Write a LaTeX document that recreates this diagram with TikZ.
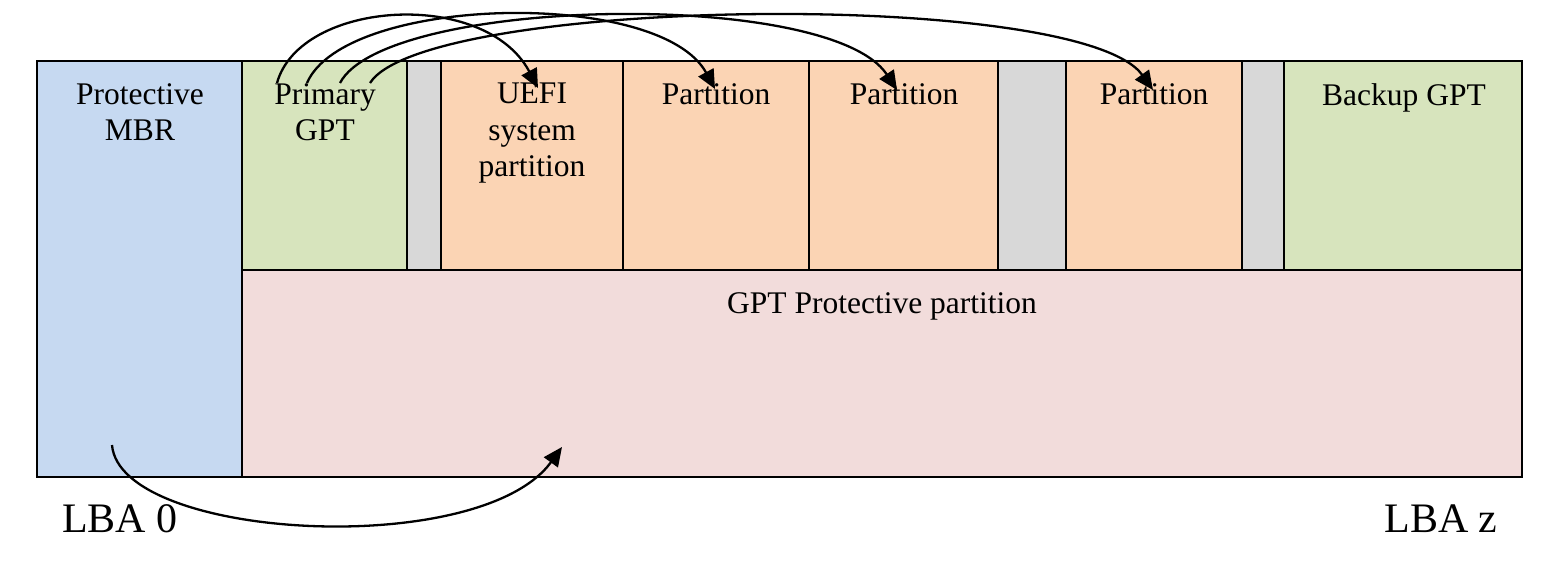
\documentclass[tikz,border=0pt]{standalone}
\usepackage{fontspec}
\setmainfont{Liberation Serif}
\usetikzlibrary{arrows.meta}
\definecolor{mbrblue}{HTML}{C6D9F1}
\definecolor{gptgreen}{HTML}{D7E4BD}
\definecolor{partorange}{HTML}{FBD4B4}
\definecolor{gapgray}{HTML}{D8D8D8}
\definecolor{protpink}{HTML}{F2DCDB}
\begin{document}
\begin{tikzpicture}[x=1pt,y=-1pt,
  box/.style={draw=black, line width=2pt, anchor=north west, inner sep=0pt, outer sep=0pt},
  lbl/.style={font=\fontsize{31.5}{36.5}\selectfont, align=center, anchor=north, inner sep=0pt},
  lba/.style={font=\fontsize{42}{48}\selectfont, anchor=base, inner sep=0pt},
  arr/.style={draw=black, line width=2.3pt, -{Triangle[length=19pt,width=17pt]}}]
\useasboundingbox (0,0) rectangle (1547,562);
% blocks
\node[box, fill=mbrblue, minimum width=205pt, minimum height=416pt] (mbr) at (37,61) {};
\node[box, fill=protpink, minimum width=1280pt, minimum height=207pt] (prot) at (242,270) {};
\node[box, fill=gptgreen, minimum width=165pt, minimum height=209pt] (pgpt) at (242,61) {};
\node[box, fill=gapgray, minimum width=34pt, minimum height=209pt] (gap1) at (407,61) {};
\node[box, fill=partorange, minimum width=182pt, minimum height=209pt] (uefi) at (441,61) {};
\node[box, fill=partorange, minimum width=186pt, minimum height=209pt] (p1) at (623,61) {};
\node[box, fill=partorange, minimum width=189pt, minimum height=209pt] (p2) at (809,61) {};
\node[box, fill=gapgray, minimum width=68pt, minimum height=209pt] (gap2) at (998,61) {};
\node[box, fill=partorange, minimum width=176pt, minimum height=209pt] (p3) at (1066,61) {};
\node[box, fill=gapgray, minimum width=42pt, minimum height=209pt] (gap3) at (1242,61) {};
\node[box, fill=gptgreen, minimum width=238pt, minimum height=209pt] (bgpt) at (1284,61) {};
% labels
\node[lbl] (tmbr) at (140,83) {Protective\\MBR};
\node[lbl] (tpgpt) at (325,83) {Primary\\GPT};
\node[lbl] (tuefi) at (532,83) {UEFI\\system\\partition};
\node[lbl] (tp1) at (716,83) {Partition};
\node[lbl] (tp2) at (904,83) {Partition};
\node[lbl] (tp3) at (1154,83) {Partition};
\node[lbl] (tbgpt) at (1404,83) {Backup GPT};
\node[lbl] (tprot) at (882,292) {GPT Protective partition};
\node[lba] (lba0) at (120,532) {LBA 0};
\node[lba] (lbaz) at (1441,532) {LBA z};
% arrow end points
\coordinate (s1) at (277,83);
\coordinate (s2) at (307,83);
\coordinate (s3) at (340,83);
\coordinate (s4) at (370,83);
\coordinate (e1) at (538,88);
\coordinate (e2) at (715,89);
\coordinate (e3) at (897,90);
\coordinate (e4) at (1153,90);
\coordinate (sb) at (112,445);
\coordinate (eb) at (562,447);
% arrows
\draw[arr] (s1) .. controls (300,0) and (485,-12) .. (e1);
\draw[arr] (s2) .. controls (345,-5) and (660,-12) .. (e2);
\draw[arr] (s3) .. controls (385,-3) and (830,-12) .. (e3);
\draw[arr] (s4) .. controls (425,-3) and (1080,-12) .. (e4);
\draw[arr] (sb) .. controls (120,540) and (480,560) .. (eb);
\end{tikzpicture}
\end{document}
